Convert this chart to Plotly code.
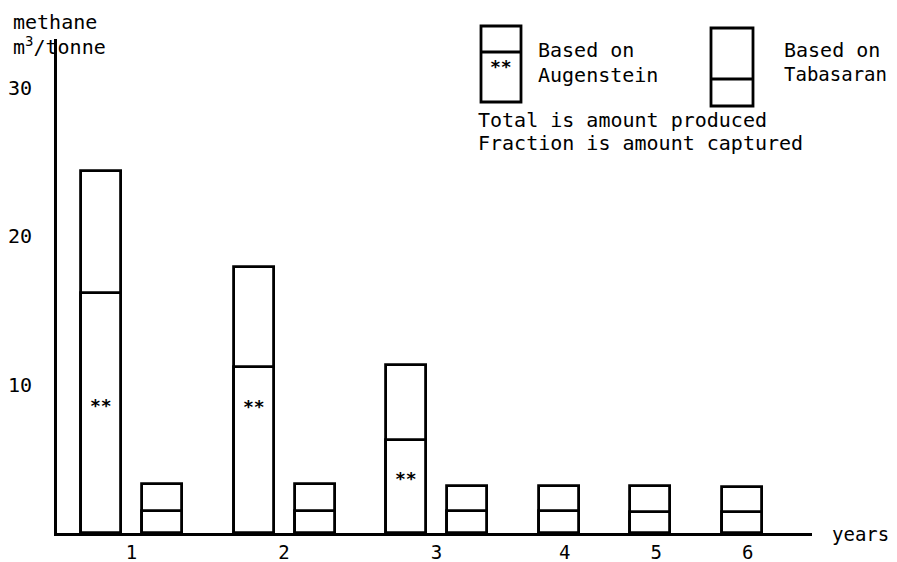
import plotly.graph_objects as go

# ---------------- data ----------------
years = [1, 2, 3, 4, 5, 6]
year_labels = ["1", "2", "3", "4", "5", "6"]
# Based on Augenstein (years 1-3 only)
aug_total = [24.4, 17.9, 11.3]
aug_captured = [16.2, 11.2, 6.3]
# Based on Tabasaran (years 1-6)
tab_total = [3.3, 3.3, 3.2, 3.2, 3.2, 3.1]
tab_captured = [1.5, 1.5, 1.45, 1.45, 1.4, 1.4]
y_ticks = [10, 20, 30]

# ---------------- layout helpers ----------------
W, H = 897, 562
L, R, T, B = 57, 85, 39, 29
FONT = "DejaVu Sans Mono"
BAR_W = 1.31

# slot positions along the x axis: paired years take 5 units, single years 3
aug_x, tab_x, lab_x = [], [], []
pos = 0.0
for i, yr in enumerate(years):
    if i < len(aug_total):
        aug_x.append(pos)
        tab_x.append(pos + 2)
        lab_x.append(pos + 1)
        pos += 5
    else:
        tab_x.append(pos)
        lab_x.append(pos + 0.2)
        pos += 3

x_range = [-1.443, 23.31]
y_range = [0, 33.3]

plot_w = W - L - R
plot_h = H - T - B


def px(xp):
    return (xp - L) / plot_w


def py(yp):
    return (H - B - yp) / plot_h


edges = []
for c in aug_x + tab_x:
    edges += [c - BAR_W / 2, c + BAR_W / 2]

bar_style = dict(color="white", line=dict(color="black", width=2.8))

fig = go.Figure()
fig.add_trace(go.Bar(x=aug_x, y=aug_total, width=BAR_W, marker=bar_style,
                     name="Augenstein total", hoverinfo="skip"))
fig.add_trace(go.Bar(x=aug_x, y=aug_captured, width=BAR_W, marker=bar_style,
                     name="Augenstein captured", hoverinfo="skip"))
fig.add_trace(go.Bar(x=tab_x, y=tab_total, width=BAR_W, marker=bar_style,
                     name="Tabasaran total", hoverinfo="skip"))
fig.add_trace(go.Bar(x=tab_x, y=tab_captured, width=BAR_W, marker=bar_style,
                     name="Tabasaran captured", hoverinfo="skip"))

annotations = []
# "**" marks inside Augenstein captured segments
for xc, cap in zip(aug_x, aug_captured):
    annotations.append(dict(x=xc, y=min(8.6, cap - 2.65), xref="x", yref="y",
                            text="<b>**</b>", showarrow=False,
                            font=dict(family=FONT, size=18, color="black")))

txt = dict(family=FONT, size=20, color="black")


def note(x, y, text, anchor="left", size=20):
    annotations.append(dict(x=px(x), y=py(y), xref="paper", yref="paper",
                            text=text, showarrow=False, xanchor=anchor,
                            yanchor="middle",
                            font=dict(family=FONT, size=size, color="black")))


note(11, 22, "methane")
note(11, 46, "m<sup>3</sup>/tonne")
note(536, 50, "Based on")
note(536, 75, "Augenstein")
note(782, 50, "Based on")
note(782, 74, "Tabasaran", size=19)
note(476, 120, "Total is amount produced")
note(476, 143, "Fraction is amount captured")
note(830, 534, "years", size=19)
note(501, 67, "<b>**</b>", anchor="center", size=18)

shapes = []
lw = 2.8


def box(x0, x1, y0, y1, ymid):
    shapes.append(dict(type="rect", xref="paper", yref="paper",
                       x0=px(x0), x1=px(x1), y0=py(y1), y1=py(y0),
                       line=dict(color="black", width=lw)))
    shapes.append(dict(type="line", xref="paper", yref="paper",
                       x0=px(x0), x1=px(x1), y0=py(ymid), y1=py(ymid),
                       line=dict(color="black", width=lw)))


box(481, 521, 26, 102, 52)
box(711, 753, 28, 106, 79)

fig.update_layout(
    width=W, height=H,
    margin=dict(l=L, r=R, t=T, b=B, pad=0, autoexpand=False),
    paper_bgcolor="white", plot_bgcolor="white",
    barmode="overlay", bargap=0,
    showlegend=False,
    font=txt,
    annotations=annotations,
    shapes=shapes,
    xaxis=dict(range=x_range, showgrid=False, zeroline=False, automargin=False,
               showline=True, linecolor="black", linewidth=2.8,
               tickvals=lab_x, ticktext=year_labels, ticks="",
               tickfont=dict(family=FONT, size=19, color="black"),
               ticklabelstandoff=0, fixedrange=True),
    xaxis2=dict(range=x_range, overlaying="x", anchor="y", side="bottom",
                automargin=False,
                showgrid=False, zeroline=False, showline=False,
                tickvals=edges, ticks="outside", ticklen=6, tickwidth=2,
                tickcolor="black", showticklabels=False, fixedrange=True),
    yaxis=dict(range=y_range, showgrid=False, zeroline=False, automargin=False,
               showline=True, linecolor="black", linewidth=2.8,
               tickvals=y_ticks, ticks="", tickfont=txt,
               ticklabelstandoff=18, fixedrange=True),
)

fig.write_html(
    "out.html",
    config={"displayModeBar": False},
    post_script="document.body.style.margin='0';"
                "document.body.style.overflow='hidden';",
)
